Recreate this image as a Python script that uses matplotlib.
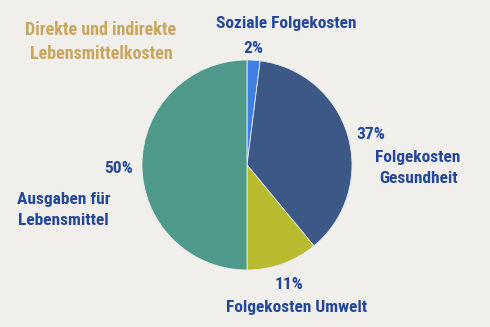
import matplotlib.pyplot as plt

categories = ["Soziale Folgekosten", "Folgekosten\nGesundheit", "Folgekosten Umwelt", "Ausgaben für\nLebensmittel"]
shares = [2, 37, 11, 50]
pct_labels = ["2%", "37%", "11%", "50%"]
colors = ["#3F80E2", "#3B5886", "#B9BB2F", "#4F998A"]
title = "Direkte und indirekte\nLebensmittelkosten"

BG = "#F0EFEB"
TXT = "#24479A"
GOLD = "#C9A65D"
FONT = ["Roboto Condensed", "DejaVu Sans"]

fig = plt.figure(figsize=(4.9, 3.27), dpi=100, facecolor=BG)
# pie centred at (247, 165) px with radius ~105 px
ax = fig.add_axes([142 / 490, 57 / 327, 210 / 490, 210 / 327])
ax.set_facecolor(BG)
ax.pie(
    shares,
    colors=colors,
    startangle=90,
    counterclock=False,
    radius=1.0,
    wedgeprops={"edgecolor": "#E8ECEA", "linewidth": 0.6},
)
ax.set_xlim(-1, 1)
ax.set_ylim(-1, 1)
ax.set_aspect("equal")
ax.axis("off")

kw = dict(fontsize=12.5, fontweight="bold", color=TXT, family=FONT,
          ha="center", va="center", linespacing=1.45, clip_on=False)
ax.text(0.37, 1.343, categories[0], **kw)
ax.text(0.057, 1.105, pct_labels[0], **kw)
ax.text(1.18, 0.295, pct_labels[1], **kw)
ax.text(1.63, -0.03, categories[1], **kw)
ax.text(0.40, -1.14, pct_labels[2], **kw)
ax.text(0.476, -1.36, categories[2], **kw)
ax.text(-1.22, -0.03, pct_labels[3], **kw)
ax.text(-1.75, -0.43, categories[3], **kw)
ax.text(-1.39, 1.171, title, **dict(kw, color=GOLD, fontsize=13, linespacing=1.4))

fig.savefig("out.png", dpi=100, facecolor=BG)
